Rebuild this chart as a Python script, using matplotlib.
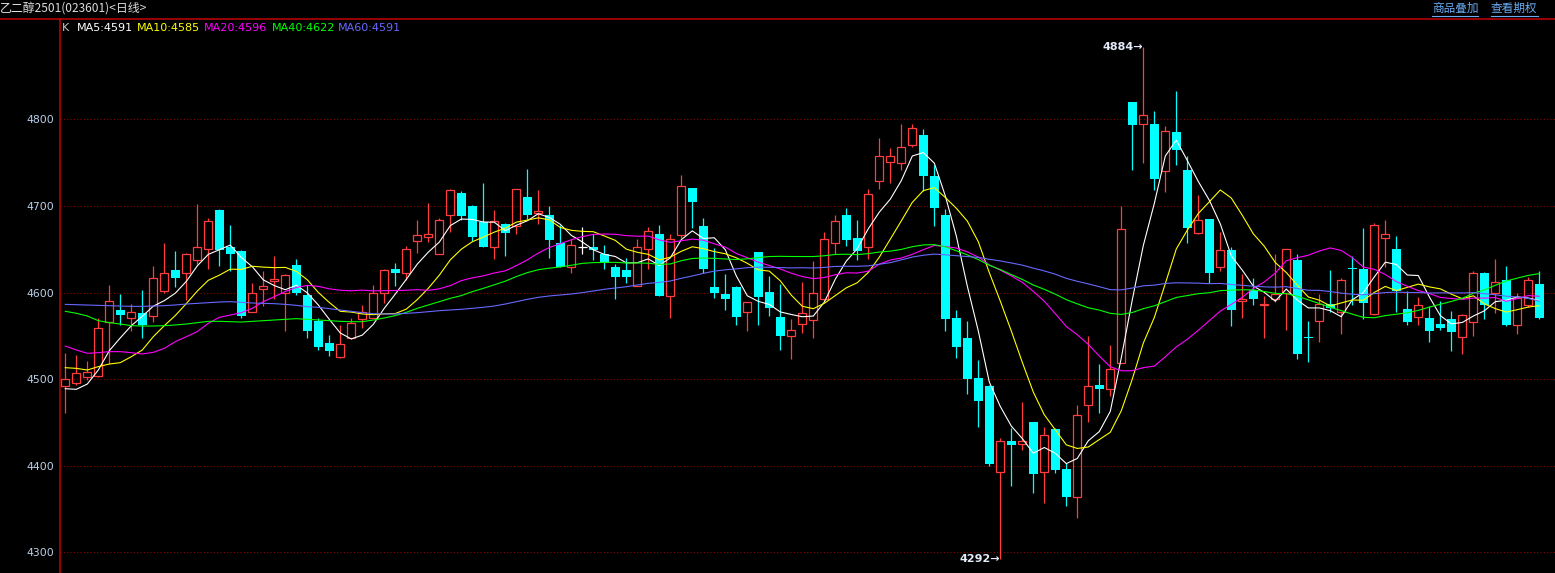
import numpy as np
import matplotlib
matplotlib.use("Agg")
import matplotlib.pyplot as plt
from matplotlib.lines import Line2D

# ---------------- data (daily K-line, 乙二醇2501) ----------------
opens = [4492, 4495, 4503, 4504, 4566, 4580, 4571, 4576, 4573, 4602,
         4626, 4623, 4637, 4650, 4695, 4653, 4648, 4578, 4604, 4613,
         4600, 4632, 4597, 4567, 4542, 4525, 4547, 4569, 4571, 4600,
         4627, 4623, 4660, 4664, 4645, 4690, 4715, 4700, 4681, 4652,
         4679, 4677, 4710, 4692, 4690, 4657, 4630, 4652, 4652, 4645,
         4629, 4626, 4608, 4650, 4667, 4596, 4666, 4721, 4677, 4606,
         4598, 4606, 4577, 4647, 4601, 4572, 4550, 4564, 4568, 4593,
         4657, 4690, 4663, 4653, 4729, 4751, 4750, 4770, 4782, 4734,
         4690, 4570, 4548, 4501, 4492, 4393, 4428, 4425, 4450, 4393,
         4442, 4396, 4364, 4470, 4493, 4488, 4519, 4820, 4795, 4795,
         4740, 4785, 4741, 4669, 4685, 4630, 4649, 4590, 4603, 4585,
         4592, 4599, 4637, 4549, 4567, 4587, 4577, 4628, 4627, 4575,
         4663, 4650, 4581, 4572, 4571, 4564, 4569, 4549, 4566, 4622,
         4600, 4615, 4563, 4586, 4610]
highs = [4530, 4528, 4521, 4570, 4609, 4598, 4587, 4603, 4631, 4657,
         4648, 4646, 4702, 4686, 4696, 4678, 4649, 4611, 4625, 4642,
         4621, 4639, 4609, 4570, 4551, 4562, 4570, 4586, 4609, 4627,
         4634, 4654, 4684, 4703, 4686, 4720, 4717, 4701, 4726, 4695,
         4680, 4720, 4743, 4718, 4700, 4678, 4662, 4676, 4668, 4655,
         4633, 4640, 4662, 4676, 4678, 4668, 4736, 4721, 4686, 4651,
         4621, 4607, 4589, 4647, 4619, 4610, 4569, 4612, 4636, 4670,
         4690, 4698, 4684, 4720, 4778, 4767, 4795, 4795, 4789, 4747,
         4696, 4580, 4567, 4522, 4493, 4432, 4444, 4474, 4451, 4445,
         4444, 4403, 4470, 4550, 4518, 4539, 4700, 4820, 4884, 4810,
         4792, 4833, 4758, 4713, 4685, 4670, 4653, 4621, 4617, 4596,
         4644, 4650, 4645, 4567, 4598, 4626, 4617, 4642, 4674, 4680,
         4684, 4665, 4602, 4595, 4584, 4590, 4579, 4575, 4625, 4624,
         4639, 4631, 4599, 4618, 4625]
lows = [4461, 4493, 4499, 4503, 4518, 4563, 4555, 4548, 4566, 4599,
        4606, 4591, 4633, 4627, 4631, 4625, 4570, 4577, 4584, 4593,
        4555, 4597, 4548, 4534, 4527, 4524, 4546, 4559, 4570, 4588,
        4608, 4614, 4646, 4658, 4644, 4670, 4684, 4659, 4652, 4639,
        4642, 4667, 4685, 4679, 4640, 4629, 4623, 4645, 4637, 4627,
        4593, 4611, 4607, 4627, 4596, 4571, 4663, 4675, 4622, 4594,
        4580, 4562, 4555, 4562, 4573, 4534, 4523, 4553, 4547, 4590,
        4645, 4654, 4638, 4639, 4720, 4727, 4741, 4768, 4717, 4677,
        4555, 4524, 4483, 4445, 4400, 4292, 4376, 4418, 4368, 4357,
        4391, 4353, 4340, 4450, 4461, 4480, 4519, 4741, 4750, 4718,
        4716, 4747, 4657, 4668, 4611, 4625, 4561, 4571, 4585, 4548,
        4589, 4557, 4523, 4520, 4543, 4577, 4552, 4585, 4569, 4574,
        4630, 4577, 4562, 4563, 4543, 4557, 4532, 4529, 4550, 4569,
        4576, 4561, 4552, 4583, 4569]
closes = [4500, 4507, 4508, 4559, 4590, 4574, 4577, 4563, 4617, 4622,
          4617, 4645, 4653, 4683, 4649, 4644, 4573, 4600, 4607, 4616,
          4620, 4599, 4556, 4537, 4533, 4541, 4565, 4578, 4599, 4626,
          4623, 4650, 4666, 4668, 4684, 4718, 4688, 4664, 4653, 4683,
          4669, 4719, 4690, 4694, 4661, 4630, 4655, 4652, 4649, 4634,
          4618, 4618, 4653, 4671, 4596, 4662, 4723, 4704, 4627, 4600,
          4593, 4572, 4589, 4595, 4582, 4550, 4557, 4576, 4599, 4662,
          4683, 4661, 4648, 4714, 4758, 4758, 4768, 4790, 4734, 4697,
          4569, 4537, 4500, 4475, 4402, 4428, 4424, 4428, 4390, 4435,
          4395, 4364, 4458, 4492, 4488, 4512, 4673, 4793, 4805, 4731,
          4786, 4765, 4675, 4684, 4623, 4649, 4580, 4593, 4592, 4587,
          4598, 4650, 4529, 4547, 4587, 4582, 4615, 4627, 4588, 4678,
          4667, 4602, 4566, 4585, 4555, 4559, 4554, 4574, 4622, 4585,
          4612, 4562, 4594, 4615, 4571]

# moving-average values read off the chart where the window reaches
# before the first visible day
ma5_head = [4488.9, 4488.2, 4494.3, 4510.5]
ma10_head = [4513.2, 4512.4, 4510.5, 4514.4, 4517.4, 4519.0, 4525.9,
             4533.6, 4549.0]
ma20_head = [4538.2, 4533.6, 4529.8, 4530.5, 4531.7, 4531.7, 4530.5,
             4529.0, 4530.9, 4535.5, 4543.2, 4549.0, 4554.8, 4564.4,
             4571.3, 4574.0, 4576.7, 4581.7, 4589.4]
ma40_head = [4578.3, 4576.0, 4572.9, 4567.5, 4565.2, 4563.6, 4561.7,
             4561.3, 4561.3, 4561.7, 4562.5, 4563.6, 4565.2, 4566.7,
             4566.7, 4566.3, 4565.9, 4566.7, 4567.5, 4568.2, 4569.0,
             4569.8, 4569.0, 4568.2, 4567.5, 4566.7, 4566.3, 4566.3,
             4568.2, 4570.6, 4573.3, 4577.1, 4581.7, 4585.6, 4589.4,
             4593.3, 4596.4, 4601.0, 4604.8]
ma60_head = [4586.3, 4585.9, 4585.6, 4585.2, 4584.8, 4584.4, 4584.0,
             4584.0, 4584.4, 4584.8, 4585.6, 4586.7, 4587.5, 4588.3,
             4589.0, 4589.4, 4588.6, 4587.9, 4587.5, 4587.1, 4586.3,
             4585.2, 4583.6, 4582.9, 4581.3, 4579.8, 4578.3, 4576.7,
             4575.6, 4575.2, 4575.2, 4575.9, 4576.7, 4577.9, 4579.0,
             4579.8, 4580.6, 4581.7, 4582.9, 4584.4, 4586.7, 4589.4,
             4592.1, 4594.4, 4596.0, 4597.1, 4598.3, 4599.8, 4601.7,
             4603.7, 4605.2, 4606.7, 4608.7, 4610.6, 4611.7, 4613.3,
             4616.4, 4619.1, 4622.1]

ma_periods = [5, 10, 20, 40, 60]
ma_heads = [ma5_head, ma10_head, ma20_head, ma40_head, ma60_head]
ma_legend_values = [4591, 4585, 4596, 4622, 4591]
y_ticks = [4300, 4400, 4500, 4600, 4700, 4800]

title_text = "乙二醇2501(023601)<日线>"
link_texts = ["商品叠加", "查看期权"]

# ---------------- styles ----------------
BG = "black"
RED = "#ff3d3d"
CYAN = "#00ffff"
AXIS_RED = "#c40000"
GRID_RED = "#8a0000"
MA_COLORS = ["#ffffff", "#ffff00", "#ff00ff", "#00ff00", "#6868ff"]
TICK_COLOR = "#bcd0ea"
LINK_COLOR = "#6aaaf0"
CJK = ["Noto Sans CJK SC", "DejaVu Sans"]

W, H = 1555, 573
fig = plt.figure(figsize=(W / 100, H / 100), dpi=100, facecolor=BG)


def fx(px):
    return px / W


def fy(py):
    return 1 - py / H


ax_left, ax_top = 60, 19
ax = fig.add_axes([fx(ax_left), 0, (W - ax_left) / W, (H - ax_top) / H])
ax.set_facecolor(BG)

# price <-> pixel calibration (4800 at y=119.3, 86.6 px per 100)
ppx = 100 / 86.6
ax.set_ylim(4800 - (H - 119.3) * ppx, 4800 + (119.3 - ax_top) * ppx)
x0_px, step_px = 65.3, 11.0
ax.set_xlim((ax_left - x0_px) / step_px, (W - x0_px) / step_px)

for s in ax.spines.values():
    s.set_visible(False)
ax.set_xticks([])
ax.set_yticks(y_ticks)
ax.set_yticklabels([str(t) for t in y_ticks])
ax.tick_params(axis="y", length=0, pad=4.3, labelsize=7.8, labelcolor=TICK_COLOR)

# dotted grid
ax.hlines(y_ticks, *ax.get_xlim(), colors=GRID_RED, linestyles=(0, (1, 2)),
          linewidth=0.8, zorder=1)

o = np.array(opens, float)
h = np.array(highs, float)
l = np.array(lows, float)
c = np.array(closes, float)
n = len(c)
x = np.arange(n)

up = c > o
dn = c < o
fl = c == o

# up candles: hollow red
ax.vlines(x[up], c[up], h[up], colors=RED, linewidth=0.9, zorder=2)
ax.vlines(x[up], l[up], o[up], colors=RED, linewidth=0.9, zorder=2)
ax.bar(x[up], c[up] - o[up], bottom=o[up], width=0.73, fill=False,
       edgecolor=RED, linewidth=0.9, zorder=2)
# down candles: solid cyan
ax.vlines(x[dn], l[dn], h[dn], colors=CYAN, linewidth=0.9, zorder=2)
ax.bar(x[dn], o[dn] - c[dn], bottom=c[dn], width=0.8, color=CYAN,
       linewidth=0, zorder=2)
# doji: white cross
ax.vlines(x[fl], l[fl], h[fl], colors="white", linewidth=0.9, zorder=2)
ax.hlines(o[fl], x[fl] - 0.4, x[fl] + 0.4, colors="white", linewidth=0.9, zorder=2)

# moving averages
for period, head, col in zip(ma_periods, ma_heads, MA_COLORS):
    ma = np.empty(n)
    ma[:period - 1] = head
    for i in range(period - 1, n):
        ma[i] = c[i - period + 1:i + 1].mean()
    ax.plot(x, ma, color=col, linewidth=0.8, zorder=3)

# high / low markers
hi = int(np.argmax(h))
lo = int(np.argmin(l))
ax.text(hi - 0.05, h[hi], f"{int(h[hi])}→", ha="right", va="center",
        color="#e4ecfa", fontsize=8, fontweight="bold", zorder=4)
ax.text(lo - 0.05, l[lo], f"{int(l[lo])}→", ha="right", va="center",
        color="#e4ecfa", fontsize=8, fontweight="bold", zorder=4)

# frame lines
fig.add_artist(Line2D([0, 1], [fy(18.5), fy(18.5)], color=AXIS_RED, linewidth=1.1))
fig.add_artist(Line2D([fx(59.5), fx(59.5)], [0, fy(18.5)], color=AXIS_RED, linewidth=1.1))

# header
fig.text(fx(0), fy(9), title_text, family=CJK, fontsize=8.6, color="#dcdcdc",
         ha="left", va="center")
link_pos = [(1432, 1478), (1491, 1538)]
for t, (a, b) in zip(link_texts, link_pos):
    fig.text(fx(a), fy(8.5), t, family=CJK, fontsize=8.4, color=LINK_COLOR,
             ha="left", va="center")
    fig.add_artist(Line2D([fx(a), fx(b)], [fy(15.5), fy(15.5)], color=LINK_COLOR,
                          linewidth=0.8))

# MA legend
fig.text(fx(62), fy(28), "K", fontsize=8, color="#c8c8c8", ha="left", va="center")
leg_x = [77, 137, 204, 272, 338]
for xp, period, val, col in zip(leg_x, ma_periods, ma_legend_values, MA_COLORS):
    fig.text(fx(xp), fy(28), f"MA{period}:{val}", fontsize=8, color=col,
             ha="left", va="center")

fig.savefig("out.png", dpi=100, facecolor=BG)
